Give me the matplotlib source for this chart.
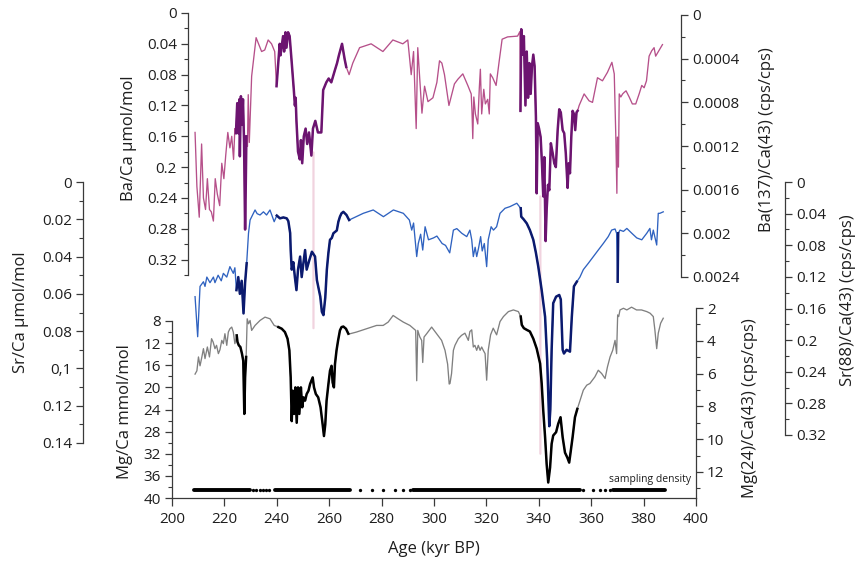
#!/usr/bin/env python3
"""Ba/Ca, Sr/Ca and Mg/Ca records against age, stacked with offset axes."""
import numpy as np
import matplotlib
matplotlib.use("Agg")
import matplotlib.pyplot as plt
from matplotlib.ticker import FixedLocator, FixedFormatter, MultipleLocator
from matplotlib.patches import ConnectionPatch

plt.rcParams["font.family"] = ["Open Sans", "DejaVu Sans"]

# (age kyr BP, Ba/Ca umol/mol)
BA_POINTS = [
    (208.8, 0.155), (209.5, 0.225), (210.4, 0.265), (211.3, 0.170), (212.0, 0.240),
    (212.8, 0.255), (213.5, 0.215), (214.3, 0.255), (215.0, 0.258), (215.8, 0.270),
    (216.5, 0.215), (217.3, 0.235), (218.2, 0.250), (219.0, 0.195), (219.8, 0.215),
    (220.5, 0.185), (221.3, 0.155), (222.1, 0.175), (222.8, 0.160), (223.5, 0.190),
    (224.0, 0.150), (224.4, 0.156), (224.9, 0.117), (225.3, 0.156), (225.7, 0.112),
    (225.9, 0.186), (226.3, 0.108), (226.7, 0.145), (227.1, 0.112), (227.5, 0.168),
    (227.9, 0.281), (228.1, 0.238), (228.4, 0.160), (228.8, 0.173), (229.1, 0.106),
    (229.5, 0.168), (230.4, 0.082), (232.1, 0.032), (234.2, 0.050), (235.4, 0.048),
    (236.7, 0.035), (238.0, 0.040), (239.2, 0.050), (239.9, 0.095), (241.1, 0.040),
    (241.4, 0.055), (242.4, 0.030), (242.8, 0.050), (243.3, 0.025), (243.7, 0.045),
    (244.3, 0.025), (244.9, 0.030), (245.6, 0.060), (246.5, 0.100), (246.9, 0.120),
    (247.2, 0.110), (247.5, 0.140), (248.1, 0.180), (248.8, 0.190), (249.2, 0.165),
    (249.7, 0.195), (250.3, 0.160), (251.0, 0.150), (251.6, 0.170), (252.3, 0.155),
    (253.2, 0.185), (253.8, 0.150), (254.7, 0.140), (255.7, 0.155), (257.0, 0.155),
    (257.7, 0.100), (258.9, 0.090), (259.8, 0.085), (260.8, 0.090), (262.1, 0.075),
    (263.0, 0.065), (263.7, 0.055), (264.9, 0.040), (265.9, 0.060), (266.5, 0.070),
    (267.6, 0.080), (269.0, 0.065), (271.6, 0.045), (276.0, 0.040), (280.5, 0.050),
    (284.3, 0.035), (288.1, 0.040), (290.0, 0.035), (291.3, 0.080), (292.2, 0.050),
    (293.2, 0.150), (293.8, 0.045), (295.4, 0.130), (296.4, 0.095), (297.7, 0.115),
    (299.6, 0.110), (301.1, 0.090), (302.1, 0.062), (303.0, 0.065), (304.0, 0.080),
    (305.7, 0.120), (307.8, 0.092), (309.1, 0.086), (311.0, 0.079), (312.9, 0.094),
    (314.2, 0.105), (314.5, 0.127), (314.8, 0.163), (315.2, 0.109), (315.8, 0.131),
    (316.7, 0.144), (317.3, 0.097), (317.7, 0.073), (318.2, 0.131), (319.0, 0.099),
    (319.6, 0.118), (320.5, 0.112), (321.1, 0.131), (321.5, 0.079), (322.4, 0.084),
    (323.7, 0.094), (324.9, 0.062), (326.0, 0.034), (328.1, 0.031), (331.9, 0.030),
    (332.8, 0.024), (333.0, 0.127), (333.3, 0.021), (333.8, 0.054), (334.3, 0.030),
    (334.9, 0.120), (335.4, 0.050), (335.9, 0.110), (336.4, 0.065), (336.9, 0.105),
    (337.4, 0.069), (337.9, 0.054), (338.4, 0.069), (338.9, 0.135), (339.2, 0.234),
    (339.6, 0.143), (340.1, 0.150), (340.7, 0.161), (341.2, 0.195), (341.7, 0.238),
    (342.1, 0.187), (342.6, 0.296), (343.0, 0.255), (343.5, 0.223), (344.0, 0.230),
    (344.6, 0.169), (345.3, 0.182), (345.9, 0.195), (346.5, 0.200), (347.2, 0.152),
    (347.8, 0.125), (348.4, 0.129), (349.1, 0.152), (349.7, 0.156), (350.3, 0.182),
    (351.0, 0.227), (351.4, 0.195), (351.9, 0.208), (352.4, 0.161), (352.9, 0.127),
    (353.4, 0.131), (353.9, 0.152), (354.4, 0.129), (354.8, 0.127), (355.4, 0.120),
    (357.3, 0.105), (359.2, 0.114), (360.5, 0.116), (362.4, 0.084), (364.3, 0.088),
    (366.2, 0.077), (367.9, 0.064), (368.8, 0.079), (369.4, 0.161), (369.8, 0.234),
    (370.0, 0.161), (370.4, 0.200), (370.7, 0.105), (371.3, 0.109), (372.0, 0.105),
    (372.6, 0.103), (373.3, 0.101), (374.5, 0.109), (375.7, 0.118), (377.0, 0.118),
    (378.3, 0.105), (379.3, 0.094), (380.2, 0.097), (381.1, 0.088), (382.1, 0.056),
    (383.1, 0.049), (384.0, 0.045), (384.6, 0.056), (385.3, 0.052), (386.2, 0.047),
    (387.2, 0.041),
]

# (age kyr BP, Sr/Ca umol/mol)
SR_POINTS = [
    (208.8, 0.0615), (209.8, 0.083), (210.7, 0.056), (212.0, 0.0535), (212.6, 0.056),
    (213.3, 0.051), (214.5, 0.054), (215.8, 0.051), (216.4, 0.054), (217.6, 0.050),
    (218.8, 0.053), (219.6, 0.049), (220.9, 0.051), (222.1, 0.0454), (223.4, 0.049),
    (224.0, 0.046), (224.6, 0.058), (225.3, 0.051), (225.9, 0.060), (226.6, 0.053),
    (227.3, 0.0705), (227.9, 0.054), (228.5, 0.0436), (228.8, 0.0365), (229.2, 0.0275),
    (229.8, 0.0204), (231.7, 0.015), (232.5, 0.017), (233.6, 0.0177), (234.9, 0.016),
    (236.1, 0.0177), (237.4, 0.015), (239.0, 0.0213), (240.0, 0.018), (241.2, 0.0195),
    (242.5, 0.019), (243.8, 0.0195), (244.4, 0.021), (245.1, 0.0274), (245.3, 0.0365),
    (245.7, 0.047), (246.3, 0.043), (246.9, 0.051), (247.5, 0.058), (248.1, 0.047),
    (248.9, 0.040), (249.5, 0.051), (250.2, 0.043), (250.8, 0.0365), (251.4, 0.047),
    (252.4, 0.042), (253.4, 0.0374), (254.6, 0.040), (255.3, 0.0526), (256.6, 0.0615),
    (257.2, 0.0696), (257.8, 0.0714), (258.5, 0.062), (259.1, 0.047), (259.7, 0.038),
    (260.3, 0.031), (261.0, 0.030), (261.6, 0.0275), (262.9, 0.026), (263.5, 0.0213),
    (264.1, 0.0186), (264.7, 0.0168), (265.4, 0.016), (266.6, 0.0177), (267.6, 0.0204),
    (273.0, 0.0168), (276.8, 0.015), (280.7, 0.0186), (284.5, 0.015), (288.3, 0.0168),
    (290.6, 0.0204), (291.5, 0.0258), (292.2, 0.022), (293.4, 0.040), (294.0, 0.033),
    (294.9, 0.028), (295.7, 0.0365), (296.6, 0.024), (297.9, 0.031), (299.8, 0.030),
    (301.1, 0.029), (303.1, 0.033), (304.4, 0.034), (306.0, 0.038), (307.4, 0.0258),
    (308.7, 0.025), (310.6, 0.0275), (312.5, 0.0293), (313.7, 0.0258), (314.4, 0.031),
    (315.0, 0.040), (315.7, 0.035), (316.3, 0.040), (317.0, 0.0355), (317.8, 0.0293),
    (318.4, 0.037), (319.2, 0.033), (320.1, 0.0454), (320.7, 0.031), (321.8, 0.024),
    (322.7, 0.0258), (323.9, 0.024), (325.2, 0.0168), (327.1, 0.0141), (329.0, 0.0132),
    (331.6, 0.0114), (333.1, 0.0141), (333.3, 0.0186), (334.2, 0.020), (335.4, 0.0222),
    (336.6, 0.0258), (337.9, 0.031), (338.9, 0.038), (339.8, 0.0454), (341.1, 0.058),
    (342.4, 0.0723), (343.2, 0.0955), (344.0, 0.131), (344.4, 0.122), (344.9, 0.090),
    (345.5, 0.065), (346.6, 0.0615), (347.8, 0.0606), (348.4, 0.063), (349.1, 0.090),
    (349.6, 0.092), (350.6, 0.090), (351.9, 0.091), (352.6, 0.0723), (353.4, 0.056),
    (354.5, 0.0535), (355.7, 0.051), (357.0, 0.047), (358.9, 0.0436), (360.8, 0.040),
    (362.7, 0.0365), (364.6, 0.033), (366.5, 0.0293), (367.8, 0.0258), (369.1, 0.0252),
    (369.7, 0.0275), (370.1, 0.0535), (370.3, 0.0275), (371.0, 0.0258), (372.3, 0.0265),
    (373.6, 0.0249), (375.5, 0.0275), (377.4, 0.030), (379.3, 0.031), (381.2, 0.0275),
    (382.4, 0.0249), (383.0, 0.031), (383.7, 0.0258), (385.0, 0.0338), (385.6, 0.0168),
    (386.2, 0.0168), (387.5, 0.016),
]

# (age kyr BP, Mg/Ca mmol/mol)
MG_POINTS = [
    (208.8, 17.6), (209.5, 17.0), (210.1, 14.5), (210.7, 16.1), (211.4, 14.5),
    (212.0, 13.0), (212.6, 14.8), (213.5, 12.7), (214.3, 14.5), (215.1, 11.2),
    (215.7, 11.8), (216.4, 13.0), (217.0, 12.4), (217.7, 13.9), (218.3, 13.2),
    (219.0, 11.5), (219.6, 12.1), (220.2, 10.3), (220.9, 12.4), (221.5, 10.0),
    (222.1, 9.4), (222.8, 9.1), (223.4, 10.0), (224.0, 12.1), (224.7, 10.6),
    (225.0, 11.8), (225.5, 12.4), (226.1, 12.7), (226.7, 13.9), (227.2, 15.2),
    (227.6, 24.8), (227.9, 18.2), (228.3, 14.5), (228.7, 7.6), (229.2, 8.5),
    (229.8, 7.9), (230.4, 9.7), (231.7, 8.8), (233.6, 7.9), (235.5, 7.3),
    (237.4, 7.6), (239.0, 8.8), (240.6, 9.1), (241.9, 9.4), (243.1, 10.0),
    (244.1, 11.2), (244.8, 13.3), (245.3, 18.2), (245.7, 26.1), (246.1, 20.6),
    (246.6, 24.8), (247.1, 20.0), (247.6, 26.4), (248.1, 20.0), (248.6, 24.8),
    (249.2, 20.0), (249.7, 23.6), (250.2, 21.8), (250.8, 22.4), (251.4, 21.2),
    (252.1, 20.6), (252.7, 19.4), (253.7, 18.2), (254.2, 20.0), (254.9, 21.2),
    (255.8, 21.8), (256.7, 23.6), (257.5, 26.7), (258.0, 28.8), (258.5, 26.7),
    (259.0, 22.4), (259.7, 19.4), (260.3, 17.0), (260.9, 16.1), (261.3, 19.1),
    (261.8, 20.0), (262.2, 15.8), (262.8, 13.3), (263.4, 11.5), (264.1, 9.7),
    (264.7, 9.1), (265.4, 9.0), (266.4, 9.4), (267.3, 10.3), (268.0, 10.3),
    (270.4, 10.0), (274.2, 9.4), (278.1, 8.8), (280.6, 8.8), (282.5, 8.2),
    (284.4, 7.0), (286.3, 7.6), (288.3, 8.2), (290.8, 8.8), (293.0, 9.7),
    (293.4, 18.8), (293.8, 9.7), (294.6, 10.9), (295.3, 11.5), (295.7, 15.5),
    (296.2, 10.9), (297.2, 10.3), (299.1, 9.1), (301.0, 10.3), (302.9, 11.5),
    (304.2, 13.3), (305.2, 15.8), (305.8, 19.4), (306.1, 19.3), (306.7, 17.5),
    (307.4, 13.3), (308.0, 12.4), (309.3, 11.2), (310.5, 10.6), (311.8, 10.2),
    (313.1, 11.5), (313.7, 9.9), (314.4, 9.6), (315.0, 12.7), (315.6, 12.4),
    (316.3, 13.3), (316.9, 12.4), (317.6, 13.3), (318.2, 12.7), (318.8, 13.3),
    (319.5, 13.9), (320.1, 18.7), (320.7, 13.3), (321.6, 10.5), (322.6, 9.3),
    (323.9, 10.5), (325.2, 8.1), (326.5, 7.2), (328.4, 6.3), (330.3, 6.0),
    (332.2, 6.3), (333.1, 7.2), (333.5, 8.7), (334.3, 9.3), (335.4, 9.6),
    (336.6, 9.9), (337.9, 11.2), (339.2, 13.0), (340.5, 15.7), (341.1, 19.3),
    (341.7, 24.2), (342.4, 29.0), (343.0, 33.9), (343.6, 37.2), (344.3, 34.5),
    (344.9, 30.2), (345.5, 28.7), (346.6, 28.1), (347.4, 26.6), (348.3, 25.4),
    (349.1, 29.0), (350.0, 31.8), (350.9, 32.7), (351.6, 33.6), (352.2, 31.5),
    (352.9, 29.0), (353.8, 25.4), (354.7, 23.9), (355.7, 22.4), (357.0, 20.5),
    (358.3, 19.6), (359.5, 19.3), (361.4, 18.1), (362.7, 16.9), (364.0, 17.5),
    (365.3, 18.4), (366.2, 16.3), (367.2, 14.5), (368.2, 13.3), (369.1, 11.5),
    (369.7, 13.9), (370.1, 6.9), (370.5, 7.2), (371.0, 6.0), (372.3, 5.7),
    (373.6, 6.0), (375.4, 5.5), (377.3, 6.0), (379.2, 6.0), (381.2, 6.3),
    (382.5, 6.6), (383.7, 7.2), (384.3, 9.6), (385.0, 13.0), (385.6, 10.2),
    (386.5, 8.4), (387.5, 7.5),
]

# intervals drawn as the bold high-resolution record
BA_HIRES = [(224.3, 228.5), (239.7, 267.0), (332.9, 355.0)]
SR_HIRES = [(224.3, 228.6), (239.7, 267.7), (333.0, 355.0), (369.9, 370.4)]
MG_HIRES = [(224.6, 228.5), (240.0, 267.4), (333.0, 354.8)]

# sampling density strip
DENSE_SPANS = [(208.5, 229.8), (239.3, 267.9), (292.0, 355.7), (368.4, 388.0)]
SPARSE_AGES = [231.0, 232.2, 233.4, 234.6, 235.8, 237.2, 271.8, 276.2, 280.7,
               285.1, 288.3, 290.8, 357.0, 360.8, 363.3, 365.3, 367.2]
SAMPLING_MG = 38.6

# shaded event markers: age, top (Ba/Ca) and bottom (Mg/Ca) ends
EVENT_AGES = [254.0, 340.6]
EVENT_TOP_BA = [0.181, 0.238]
EVENT_BOTTOM_MG = [9.3, 32.0]

BA_TICKS = [0, 0.04, 0.08, 0.12, 0.16, 0.2, 0.24, 0.28, 0.32]
BA_LABELS = ["0", "0.04", "0.08", "0.12", "0.16", "0.2", "0.24", "0.28", "0.32"]
BA2_TICKS = [0, 0.0004, 0.0008, 0.0012, 0.0016, 0.002, 0.0024]
BA2_LABELS = ["0", "0.0004", "0.0008", "0.0012", "0.0016", "0.002", "0.0024"]
SR_TICKS = [0, 0.02, 0.04, 0.06, 0.08, 0.1, 0.12, 0.14]
SR_LABELS = ["0", "0.02", "0.04", "0.06", "0.08", "0,1", "0.12", "0.14"]
SR2_TICKS = [0, 0.04, 0.08, 0.12, 0.16, 0.2, 0.24, 0.28, 0.32]
SR2_LABELS = ["0", "0.04", "0.08", "0.12", "0.16", "0.2", "0.24", "0.28", "0.32"]
MG_TICKS = [8, 12, 16, 20, 24, 28, 32, 36, 40]
MG_LABELS = [str(v) for v in MG_TICKS]
MG2_TICKS = [2, 4, 6, 8, 10, 12]
MG2_LABELS = [str(v) for v in MG2_TICKS]
AGE_TICKS = [200, 220, 240, 260, 280, 300, 320, 340, 360, 380, 400]

BA_THIN, BA_BOLD = "#b6508a", "#6c1470"
SR_THIN, SR_BOLD = "#2f62c0", "#0b1a6e"
MG_THIN, MG_BOLD = "#808080", "#000000"
EVENT_C = "#f1d3df"
AXC = "#3a3a3a"
TXT = "#1e1e1e"

W, H = 859, 563
X200, X400 = 172, 696


def age_at(px):
    return 200 + (px - X200) * 200.0 / (X400 - X200)


fig = plt.figure(figsize=(W / 100, H / 100), dpi=100)


def panel(x0, x1, y0, y1, side, ylim, ticks, labels, minor):
    ax = fig.add_axes([x0 / W, 1 - y1 / H, (x1 - x0) / W, (y1 - y0) / H])
    ax.set_xlim(age_at(x0), age_at(x1))
    ax.set_ylim(*ylim)
    ax.patch.set_visible(False)
    for k, s in ax.spines.items():
        s.set_visible(k == side)
        s.set_color(AXC)
        s.set_linewidth(0.9)
    ax.set_xticks([])
    ax.yaxis.set_ticks_position(side)
    ax.yaxis.set_major_locator(FixedLocator(ticks))
    ax.yaxis.set_major_formatter(FixedFormatter(labels))
    ax.yaxis.set_minor_locator(MultipleLocator(minor))
    ax.tick_params(axis="y", which="major", length=5, width=0.9, color=AXC,
                   labelsize=11, labelcolor=TXT, pad=3)
    ax.tick_params(axis="y", which="minor", length=3, width=0.8, color=AXC)
    return ax


def draw(ax, pts, hires, thin_c, bold_c):
    age, val = np.array(pts).T
    ax.plot(age, val, color=thin_c, lw=0.95, clip_on=False, zorder=2)
    for a, b in hires:
        m = (age >= a) & (age <= b)
        ax.plot(age[m], val[m], color=bold_c, lw=1.8, clip_on=False, zorder=3)


ax_sr = panel(83, 785, 182, 443, "left", (0.14, 0), SR_TICKS, SR_LABELS, 0.01)
ax_sr2 = panel(83, 785, 182, 435, "right", (0.32, 0), SR2_TICKS, SR2_LABELS, 0.02)
ax_ba = panel(188, 681, 13, 275, "left", (0.34, 0), BA_TICKS, BA_LABELS, 0.02)
ax_ba2 = panel(188, 681, 15, 277, "right", (0.0024, 0), BA2_TICKS, BA2_LABELS, 0.0002)
ax_mg2 = panel(172, 696, 308, 498, "right", (13.59, 2), MG2_TICKS, MG2_LABELS, 1)
ax_mg = panel(172, 696, 321, 498, "left", (40, 8), MG_TICKS, MG_LABELS, 2)

ax_mg.spines["bottom"].set_visible(True)
ax_mg.set_xticks(AGE_TICKS)
ax_mg.set_xticklabels([str(v) for v in AGE_TICKS])
ax_mg.tick_params(axis="x", length=6, width=0.9, color=AXC, labelsize=11,
                  labelcolor=TXT, pad=4)

draw(ax_ba, BA_POINTS, BA_HIRES, BA_THIN, BA_BOLD)
draw(ax_sr, SR_POINTS, SR_HIRES, SR_THIN, SR_BOLD)
draw(ax_mg, MG_POINTS, MG_HIRES, MG_THIN, MG_BOLD)

for a, b in DENSE_SPANS:
    ax_mg.plot([a, b], [SAMPLING_MG, SAMPLING_MG], color="k", lw=2.8,
               solid_capstyle="round", clip_on=False, zorder=4)
ax_mg.plot(SPARSE_AGES, [SAMPLING_MG] * len(SPARSE_AGES), "o", color="k",
           ms=2.4, mew=0, clip_on=False, zorder=4)
ax_mg.text(398, 36.7, "sampling density", ha="right", va="center",
           fontsize=7.5, color=TXT)

for age, top, bottom in zip(EVENT_AGES, EVENT_TOP_BA, EVENT_BOTTOM_MG):
    con = ConnectionPatch(xyA=(age, top), coordsA="data", axesA=ax_ba,
                          xyB=(age, bottom), coordsB="data", axesB=ax_mg,
                          color=EVENT_C, lw=1.6, zorder=-1)
    fig.add_artist(con)


def label(px, py, s):
    fig.text(px / W, 1 - py / H, s, rotation=90, ha="center", va="center",
             fontsize=12, color=TXT)


label(129, 138, "Ba/Ca µmol/mol")
label(21, 312, "Sr/Ca µmol/mol")
label(125, 412, "Mg/Ca mmol/mol")
label(767, 140, "Ba(137)/Ca(43) (cps/cps)")
label(848, 300, "Sr(88)/Ca(43) (cps/cps)")
label(750, 408, "Mg(24)/Ca(43) (cps/cps)")
fig.text(434 / W, 1 - 549 / H, "Age (kyr BP)", ha="center", va="center",
         fontsize=12, color=TXT)

fig.savefig("out.png", dpi=100)
